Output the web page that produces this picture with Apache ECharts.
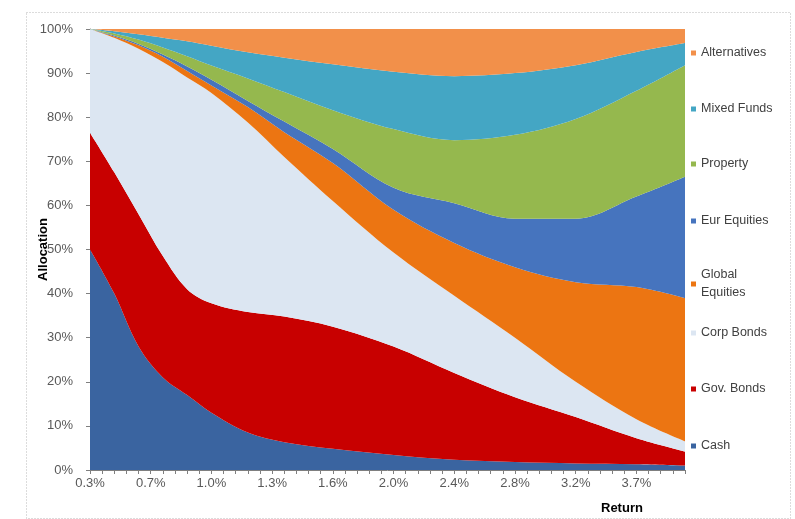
<!DOCTYPE html>
<html>
<head>
<meta charset="utf-8">
<script src="https://cdn.jsdelivr.net/npm/echarts@6/dist/echarts.min.js"></script>
<style>
  html, body { margin: 0; padding: 0; background: #fff; }
  #chart { width: 795px; height: 519px; }
</style>
</head>
<body>
<div id="chart"></div>
<script>
// x categories (portfolio return, %), label shown every 5th
const returns = ['0.30', '0.38', '0.46', '0.54', '0.62', '0.70', '0.76', '0.82', '0.88', '0.94',
  '1.00', '1.06', '1.12', '1.18', '1.24', '1.30', '1.36', '1.42', '1.48', '1.54',
  '1.60', '1.68', '1.76', '1.84', '1.92', '2.00', '2.08', '2.16', '2.24', '2.32',
  '2.40', '2.48', '2.56', '2.64', '2.72', '2.80', '2.88', '2.96', '3.04', '3.12',
  '3.20', '3.30', '3.40', '3.50', '3.60', '3.70', '3.80', '3.90', '4.00', '4.10'];

// category index of each sampled point
const points = [0, 2, 4, 6, 8, 10, 13, 16, 20, 25, 30, 35, 40, 45, 49];

// allocations (%), bottom to top
const cash           = [50, 40, 28, 21, 17, 13, 8.5, 6.3, 4.8, 3.4, 2.3, 1.8, 1.5, 1.3, 1.0];
const govBonds       = [26.5, 27.5, 30, 27.5, 24, 24.8, 27.3, 28.5, 27.7, 24.6, 19.7, 14.7, 10.5, 5.9, 3.2];
const corpBonds      = [23.5, 30.5, 37.5, 44, 48, 47.7, 43, 36.2, 28.5, 21.3, 17.5, 13.5, 8, 4.3, 2.3];
const globalEquities = [0, 0.3, 0.8, 1.2, 1.5, 1.7, 3.5, 5.6, 8.6, 9.7, 12, 16, 22.6, 30, 32.5];
const eurEquities    = [0, 0.2, 0.3, 0.5, 1, 1.3, 1.4, 2.4, 3.2, 5, 9, 11, 14.4, 20.5, 27.5];
const property       = [0, 0.5, 1, 1.6, 2.3, 3.2, 5.1, 6.7, 8.8, 13.3, 14.3, 19, 22.6, 24, 25.3];
const mixedFunds     = [0, 0.5, 1.2, 2.2, 3.4, 4.5, 5.9, 7.8, 10.4, 13, 14.5, 14, 12.2, 8.8, 5];
const alternatives   = [0, 0.5, 1.2, 2, 2.8, 3.8, 5.3, 6.5, 8, 9.7, 10.7, 10, 8.2, 5.2, 3.2];

const yTicks = [0, 10, 20, 30, 40, 50, 60, 70, 80, 90, 100];

const names = ['Cash', 'Gov. Bonds', 'Corp Bonds', 'Global Equities', 'Eur Equities', 'Property', 'Mixed Funds', 'Alternatives'];
const shares = [cash, govBonds, corpBonds, globalEquities, eurEquities, property, mixedFunds, alternatives];
const colors = ['#3A64A0', '#C80000', '#DCE6F2', '#EC7512', '#4674BE', '#95B84E', '#44A6C4', '#F2904A'];

// legend entry tops (Excel spreads them evenly down the right side)
const legendTops = { 'Alternatives': 39, 'Mixed Funds': 95, 'Property': 150, 'Eur Equities': 207,
  'Global Equities': 261, 'Corp Bonds': 319, 'Gov. Bonds': 375, 'Cash': 432 };

const font = 'Liberation Sans, Arial, sans-serif';

const chart = echarts.init(document.getElementById('chart'));
chart.setOption({
  animation: false,
  backgroundColor: '#fff',
  grid: { left: 90, right: 110, top: 29, bottom: 49, containLabel: false, outerBoundsMode: 'none' },
  legend: names.slice().reverse().map(n => ({
    data: [n],
    orient: 'vertical',
    left: 686,
    top: legendTops[n],
    icon: 'rect',
    itemWidth: 5,
    itemHeight: 5,
    itemGap: 4,
    selectedMode: false,
    formatter: name => name === 'Global Equities' ? 'Global\nEquities' : name,
    textStyle: { fontFamily: font, fontSize: 12.5, color: '#404040', lineHeight: 18 }
  })),
  xAxis: {
    type: 'category',
    data: returns,
    boundaryGap: false,
    axisLine: { show: true, lineStyle: { color: '#7f7f7f', width: 1 } },
    axisTick: { show: true, interval: 0, length: 4, lineStyle: { color: '#7f7f7f' } },
    axisLabel: {
      interval: 4,
      margin: 7,
      fontFamily: font,
      fontSize: 13,
      color: '#595959',
      formatter: v => parseFloat(v).toFixed(1) + '%'
    },
    splitLine: { show: false }
  },
  yAxis: {
    type: 'value',
    min: yTicks[0],
    max: yTicks[yTicks.length - 1],
    interval: yTicks[1] - yTicks[0],
    name: 'Allocation',
    nameLocation: 'middle',
    nameRotate: 90,
    nameGap: 40,
    nameMoveOverlap: false,
    nameTextStyle: { fontFamily: font, fontSize: 13, fontWeight: 'bold', color: '#000' },
    axisLine: { show: true, lineStyle: { color: '#7f7f7f', width: 1 } },
    axisTick: { show: true, length: 4, lineStyle: { color: '#7f7f7f' } },
    axisLabel: { margin: 17, fontFamily: font, fontSize: 13, color: '#595959', formatter: '{value}%' },
    splitLine: { show: false }
  },
  graphic: [
    {
      type: 'rect',
      left: 24, top: 10,
      shape: { width: 764, height: 506 },
      style: { fill: 'none', stroke: '#b8b8b8', lineWidth: 1, lineDash: [1, 2] },
      silent: true
    },
    {
      type: 'text',
      left: 601, top: 502,
      style: { text: 'Return', fontFamily: font, fontSize: 13, fontWeight: 'bold', fill: '#000' }
    }
  ],
  series: names.map((name, i) => ({
    name: name,
    type: 'line',
    stack: 'total',
    smooth: 0.35,
    symbol: 'none',
    showSymbol: false,
    lineStyle: { width: 0 },
    itemStyle: { color: colors[i] },
    areaStyle: { color: colors[i], opacity: 1 },
    data: points.map((p, j) => [p, shares[i][j]])
  }))
});
window.addEventListener('resize', () => chart.resize());
</script>
</body>
</html>
